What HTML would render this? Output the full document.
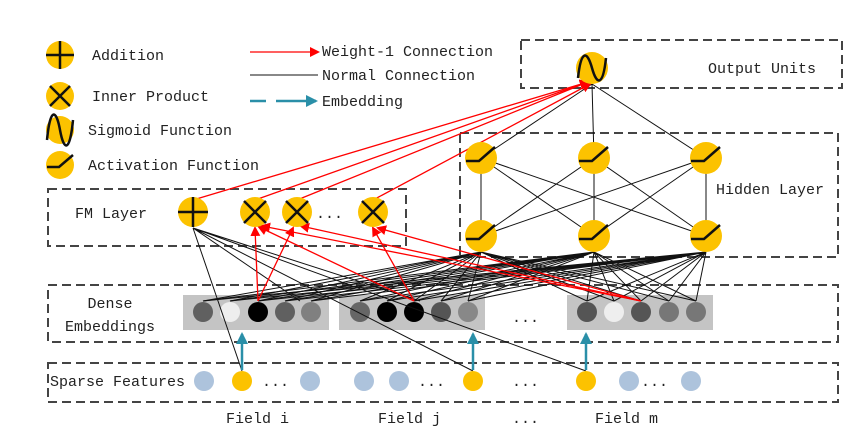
<!DOCTYPE html>
<html><head><meta charset="utf-8"><style>
html,body{margin:0;padding:0;background:#fff}
svg{display:block}
text{font-family:"Liberation Mono","DejaVu Sans Mono",monospace;font-size:15px;fill:#222}
</style></head><body>
<svg width="866" height="440" viewBox="0 0 866 440" xmlns="http://www.w3.org/2000/svg">
<defs>
<marker id="ra" markerWidth="10" markerHeight="10" refX="8" refY="5" orient="auto" markerUnits="userSpaceOnUse"><path d="M0,0 L10,5 L0,10 z" fill="#f00"/></marker>
<marker id="ta" markerWidth="12" markerHeight="12" refX="10" refY="6" orient="auto" markerUnits="userSpaceOnUse"><path d="M0,0 L12,6 L0,12 z" fill="#2a8fa8"/></marker>
</defs>
<g fill="none" stroke="#444" stroke-width="2" stroke-dasharray="9,5">
<rect x="521" y="40" width="321" height="48"/>
<rect x="460" y="133" width="378" height="124"/>
<rect x="48" y="189" width="358" height="57"/>
<rect x="48" y="285" width="790" height="57"/>
<rect x="48" y="363" width="790" height="39"/>
</g>
<rect x="183" y="295" width="146" height="35" fill="#c4c4c4"/>
<rect x="339" y="295" width="146" height="35" fill="#c4c4c4"/>
<rect x="567" y="295" width="146" height="35" fill="#c4c4c4"/>
<g>
<circle cx="203" cy="312" r="10" fill="#606060"/><circle cx="230" cy="312" r="10" fill="#eee"/><circle cx="258" cy="312" r="10" fill="#000"/><circle cx="285" cy="312" r="10" fill="#606060"/><circle cx="311" cy="312" r="10" fill="#808080"/>
<circle cx="360" cy="312" r="10" fill="#666"/><circle cx="387" cy="312" r="10" fill="#000"/><circle cx="414" cy="312" r="10" fill="#000"/><circle cx="441" cy="312" r="10" fill="#555"/><circle cx="468" cy="312" r="10" fill="#888"/>
<circle cx="587" cy="312" r="10" fill="#555"/><circle cx="614" cy="312" r="10" fill="#eee"/><circle cx="641" cy="312" r="10" fill="#555"/><circle cx="669" cy="312" r="10" fill="#777"/><circle cx="696" cy="312" r="10" fill="#777"/>
</g>
<g stroke="#111" stroke-width="1">
<path d="M481,252 L203,301 M481,252 L230,301 M481,252 L258,301 M481,252 L285,301 M481,252 L311,301 M481,252 L360,301 M481,252 L387,301 M481,252 L414,301 M481,252 L441,301 M481,252 L468,301 M481,252 L587,301 M481,252 L614,301 M481,252 L641,301 M481,252 L669,301 M481,252 L696,301"/>
<path d="M594,252 L203,301 M594,252 L230,301 M594,252 L258,301 M594,252 L285,301 M594,252 L311,301 M594,252 L360,301 M594,252 L387,301 M594,252 L414,301 M594,252 L441,301 M594,252 L468,301 M594,252 L587,301 M594,252 L614,301 M594,252 L641,301 M594,252 L669,301 M594,252 L696,301"/>
<path d="M706,252 L203,301 M706,252 L230,301 M706,252 L258,301 M706,252 L285,301 M706,252 L311,301 M706,252 L360,301 M706,252 L387,301 M706,252 L414,301 M706,252 L441,301 M706,252 L468,301 M706,252 L587,301 M706,252 L614,301 M706,252 L641,301 M706,252 L669,301 M706,252 L696,301"/>
<path d="M193,228 L242,371 M193,228 L473,371 M193,228 L586,371 M193,228 L300,301 M193,228 L420,301"/>
<path d="M481,158 L481,236 M481,158 L594,236 M481,158 L706,236 M594,158 L481,236 M594,158 L594,236 M594,158 L706,236 M706,158 L481,236 M706,158 L594,236 M706,158 L706,236"/>
<path d="M481,158 L592,84 M594,158 L592,84 M706,158 L592,84"/>
<path d="M250,75 L318,75"/>
</g>
<g stroke="#f00" stroke-width="1.3" fill="none" marker-end="url(#ra)">
<path d="M258,301 L255,228"/><path d="M258,301 L293,228"/>
<path d="M414,301 L259,227"/><path d="M414,301 L373,228"/>
<path d="M641,301 L262,226"/><path d="M641,301 L301,226"/><path d="M641,301 L378,228"/>
<path d="M193,200 L588,82"/><path d="M255,200 L588,82"/><path d="M297,200 L588,82"/><path d="M373,200 L590,84"/>
<path d="M250,52 L318,52"/>
</g>
<g stroke="#2a8fa8" stroke-width="2.5" fill="none" marker-end="url(#ta)">
<path d="M242,370 L242,334"/><path d="M473,370 L473,334"/><path d="M586,370 L586,334"/>
<path d="M250,101 L266,101" marker-end="none"/><path d="M276,101 L316,101"/>
</g>
<g fill="#adc3dc">
<circle cx="204" cy="381" r="10"/><circle cx="310" cy="381" r="10"/><circle cx="364" cy="381" r="10"/><circle cx="399" cy="381" r="10"/><circle cx="629" cy="381" r="10"/><circle cx="691" cy="381" r="10"/>
</g>
<g fill="#fcc200">
<circle cx="242" cy="381" r="10"/><circle cx="473" cy="381" r="10"/><circle cx="586" cy="381" r="10"/>
</g>
<g fill="#fcc200">
<circle cx="60" cy="55" r="14"/><circle cx="60" cy="96" r="14"/><circle cx="60" cy="130" r="14"/><circle cx="60" cy="165" r="14"/>
<circle cx="592" cy="68" r="16"/>
<circle cx="481" cy="158" r="16"/><circle cx="594" cy="158" r="16"/><circle cx="706" cy="158" r="16"/>
<circle cx="481" cy="236" r="16"/><circle cx="594" cy="236" r="16"/><circle cx="706" cy="236" r="16"/>
<circle cx="193" cy="212" r="15"/><circle cx="255" cy="212" r="15"/><circle cx="297" cy="212" r="15"/><circle cx="373" cy="212" r="15"/>
</g>
<g stroke="#111" stroke-width="2.5" fill="none">
<path d="M46,55 L74,55 M60,41 L60,69"/>
<path d="M50,86 L70,106 M70,86 L50,106"/>
<path d="M47,140 C50,108 56,108 60,130 C64,152 70,152 73,120"/>
<path d="M47,167 L59,167 L73,155"/>
<path d="M578,78 C581,50 587,50 592,68 C597,86 603,86 606,58"/>
<path d="M178,212 L208,212 M193,197 L193,227"/>
<path d="M244,201 L266,223 M266,201 L244,223"/><path d="M286,201 L308,223 M308,201 L286,223"/><path d="M362,201 L384,223 M384,201 L362,223"/>
<path d="M466,161 L479,161 L495,147"/><path d="M579,161 L592,161 L608,147"/><path d="M691,161 L704,161 L720,147"/>
<path d="M466,239 L479,239 L495,225"/><path d="M579,239 L592,239 L608,225"/><path d="M691,239 L704,239 L720,225"/>
</g>
<text x="92" y="60">Addition</text>
<text x="92" y="101">Inner Product</text>
<text x="88" y="135">Sigmoid Function</text>
<text x="88" y="170">Activation Function</text>
<text x="322" y="56">Weight-1 Connection</text>
<text x="322" y="80">Normal Connection</text>
<text x="322" y="106">Embedding</text>
<text x="708" y="73">Output Units</text>
<text x="716" y="194">Hidden Layer</text>
<text x="75" y="218">FM Layer</text>
<text x="110" y="308" text-anchor="middle">Dense</text>
<text x="110" y="331" text-anchor="middle">Embeddings</text>
<text x="50" y="386">Sparse Features</text>
<text x="316" y="218">...</text>
<text x="512" y="322">...</text>
<text x="262" y="386">...</text>
<text x="418" y="386">...</text>
<text x="512" y="386">...</text>
<text x="641" y="386">...</text>
<text x="226" y="423">Field i</text>
<text x="378" y="423">Field j</text>
<text x="512" y="423">...</text>
<text x="595" y="423">Field m</text>
</svg>
</body></html>
